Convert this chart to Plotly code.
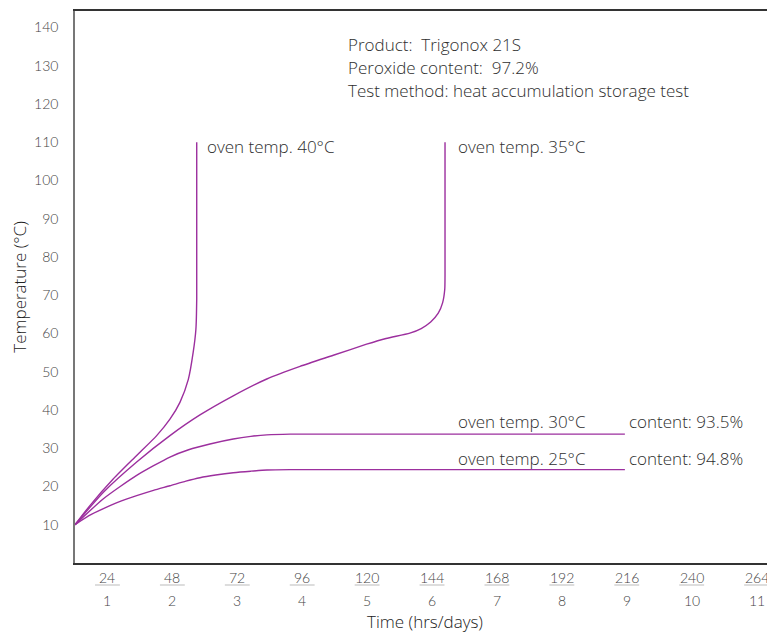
import plotly.graph_objects as go

# Data (hours, °C)
t40_h = [0, 5.5, 14.2, 22.8, 30.2, 35.1, 38.8, 41.9, 43.7, 44.7, 45.0, 45.0]
t40_T = [10, 15.0, 22.0, 28.1, 33.3, 37.6, 42.0, 48.0, 55.1, 61.1, 69.0, 110]

t35_h = [0, 10.5, 22.8, 35.1, 46.2, 58.5, 70.9, 83.2, 95.5, 107.8, 115, 123.8, 128, 131.5, 134.3, 135.9, 136.7, 136.8, 136.8]
t35_T = [10, 18.5, 26.4, 33.3, 38.7, 43.7, 48.1, 51.4, 54.3, 57.2, 58.7, 60.1, 61.3, 63.0, 65.3, 68.0, 71.5, 75.0, 110]

t30_h = [0, 10.5, 22.8, 35.1, 42, 49.9, 58.5, 65, 70.9, 79.5, 203.3]
t30_T = [10, 16.8, 22.9, 27.7, 29.6, 31.1, 32.4, 33.1, 33.5, 33.7, 33.7]

t25_h = [0, 5, 10.5, 16, 22.8, 29, 35.1, 41, 46.2, 52, 58.5, 65, 71, 79.5, 203.3]
t25_T = [10, 12.3, 14.2, 15.9, 17.6, 19.0, 20.2, 21.4, 22.3, 23.0, 23.6, 24.0, 24.3, 24.4, 24.4]

hour_labels = [24, 48, 72, 96, 120, 144, 168, 192, 216, 240, 264]
day_labels = [1, 2, 3, 4, 5, 6, 7, 8, 9, 10, 11]
y_ticks = [10, 20, 30, 40, 50, 60, 70, 80, 90, 100, 110, 120, 130, 140]

info_lines = ["Product:  Trigonox 21S", "Peroxide content:  97.2%",
              "Test method: heat accumulation storage test"]

PURPLE = "#9c2f9e"
TXT = "#2e2e2e"
FONT = "Open Sans"
TFONT = "Lato"
W = 300

fig = go.Figure()
for xs, ys in [(t40_h, t40_T), (t35_h, t35_T), (t30_h, t30_T), (t25_h, t25_T)]:
    fig.add_trace(go.Scatter(x=xs, y=ys, mode="lines",
                             line=dict(color=PURPLE, width=1.4, shape="spline", smoothing=0.6),
                             hoverinfo="skip", showlegend=False))

ann = []
for i, s in enumerate(info_lines):
    ann.append(dict(x=100.2, y=135.5 - i * 6.0, xref="x", yref="y", text=s,
                    showarrow=False, xanchor="left", yanchor="middle",
                    font=dict(size=17, color=TXT, family=FONT, weight=W)))
labels = [
    (48.1, 108.9, "oven temp. 40°C"),
    (141.0, 108.9, "oven temp. 35°C"),
    (141.0, 36.9, "oven temp. 30°C"),
    (204.1, 36.9, "content: 93.5%"),
    (141.0, 27.2, "oven temp. 25°C"),
    (204.1, 27.2, "content: 94.8%"),
]
for x, y, s in labels:
    ann.append(dict(x=x, y=y, xref="x", yref="y", text=s, showarrow=False,
                    xanchor="left", yanchor="middle",
                    font=dict(size=17, color=TXT, family=FONT, weight=W)))

shapes = []
for hl, dl in zip(hour_labels, day_labels):
    xc = hl - 12
    ann.append(dict(x=xc, y=0, xref="x", yref="paper", text=str(hl), showarrow=False,
                    xanchor="center", yanchor="middle", yshift=-14,
                    font=dict(size=14, color="#444", family=TFONT, weight=W)))
    ann.append(dict(x=xc, y=0, xref="x", yref="paper", text=str(dl), showarrow=False,
                    xanchor="center", yanchor="middle", yshift=-37,
                    font=dict(size=14, color="#444", family=TFONT, weight=W)))
    shapes.append(dict(type="line", xref="x", yref="paper", x0=xc - 4.6, x1=xc + 4.6,
                       y0=-22 / 552, y1=-22 / 552, line=dict(color="#bbbbbb", width=1)))

fig.update_layout(
    width=767, height=625,
    margin=dict(l=67, r=0, t=3, b=70),
    paper_bgcolor="white", plot_bgcolor="white",
    font=dict(family=FONT, color=TXT),
    annotations=ann, shapes=shapes,
    xaxis=dict(range=[0, 258.8], showgrid=False, zeroline=False, showticklabels=False,
               ticks="", showline=True, mirror=True, linecolor="#333", linewidth=1.5,
               title=dict(text="Time (hrs/days)", font=dict(size=17, color="#222", family=FONT, weight=W),
                          standoff=53)),
    yaxis=dict(range=[0, 144.3], showgrid=False, zeroline=False, tickvals=y_ticks,
               ticks="", showline=True, linecolor="#777", linewidth=1.5,
               tickfont=dict(size=14, color="#444", family=TFONT, weight=W), ticklabelstandoff=12,
               title=dict(text="Temperature (°C)", font=dict(size=17, color="#222", family=FONT, weight=W),
                          standoff=4)),
)

fig.write_html("out.html")
